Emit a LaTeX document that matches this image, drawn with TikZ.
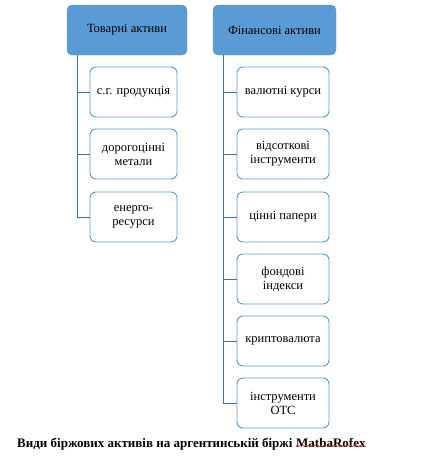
\documentclass[tikz,border=0pt]{standalone}
\usepackage{fontspec}
\setmainfont{Liberation Serif}
\usetikzlibrary{decorations.pathmorphing}
\definecolor{topblue}{HTML}{5B9BD5}
\definecolor{edgeblue}{HTML}{5B9BD5}
\definecolor{lineblue}{HTML}{41719C}
\definecolor{spellred}{HTML}{E03030}
\begin{document}
\begin{tikzpicture}[x=1pt,y=-1pt,
  topbox/.style={draw=topblue,fill=topblue,rounded corners=5pt,minimum height=50pt,inner sep=1pt,align=center,font=\fontsize{12.5}{14}\selectfont},
  childbox/.style={draw=edgeblue,line width=0.9pt,fill=white,rounded corners=6pt,minimum height=50pt,inner sep=1pt,align=center,font=\fontsize{12.5}{14}\selectfont},
  conn/.style={draw=lineblue,line width=1pt},
  captext/.style={inner sep=0pt,font=\bfseries\fontsize{13}{15}\selectfont}]
\useasboundingbox (0,0) rectangle (427,456);
\node[topbox,minimum width=120pt] (t1) at (127,30) {Товарні активи};
\node[topbox,minimum width=123pt] (t2) at (274.5,30) {Фінансові активи};
\node[childbox,minimum width=87pt] (a1) at (133.5,92) {с.г. продукція};
\node[childbox,minimum width=87pt] (a2) at (133.5,154) {дорогоцінні\\метали};
\node[childbox,minimum width=87pt] (a3) at (133.5,217) {енерго-\\ресурси};
\node[childbox,minimum width=92pt] (b1) at (283,92) {валютні курси};
\node[childbox,minimum width=92pt] (b2) at (283,154) {відсоткові\\інструменти};
\node[childbox,minimum width=92pt] (b3) at (283,217) {цінні папери};
\node[childbox,minimum width=92pt] (b4) at (283,279) {фондові\\індекси};
\node[childbox,minimum width=92pt] (b5) at (283,341) {криптовалюта};
\node[childbox,minimum width=92pt] (b6) at (283,403) {інструменти\\ОТС};
\coordinate (lt) at ([xshift=11pt]t1.south west);
\coordinate (rt) at ([xshift=11pt]t2.south west);
\draw[conn] (lt) |- (a3.west);
\foreach \n in {a1,a2} \draw[conn] (lt |- \n.west) -- (\n.west);
\draw[conn] (rt) |- (b6.west);
\foreach \n in {b1,b2,b3,b4,b5} \draw[conn] (rt |- \n.west) -- (\n.west);
\node[captext,anchor=base west] (cap) at (17,447) {Види біржових активів на аргентинській біржі};
\node[captext,anchor=base west,xshift=3.3pt] (mr) at (cap.base east) {MatbaRofex};
\draw[spellred,line width=0.5pt,decorate,decoration={snake,amplitude=0.7pt,segment length=3pt}]
  ([yshift=1.5pt]mr.south west) -- ([yshift=1.5pt]mr.south east);
\end{tikzpicture}
\end{document}
